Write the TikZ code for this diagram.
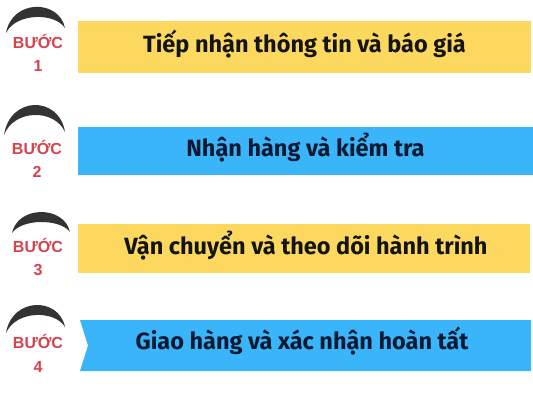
\documentclass[tikz,border=0pt]{standalone}
\usepackage{fontspec}
\setmainfont{Fira Sans}
\newfontfamily\stepfont{Liberation Sans}
\definecolor{stepyellow}{RGB}{252,217,94}
\definecolor{stepblue}{RGB}{59,181,250}
\definecolor{stepred}{RGB}{213,67,79}
\definecolor{capgray}{RGB}{51,51,51}
\definecolor{navy}{RGB}{10,25,50}
\definecolor{ink}{RGB}{20,20,20}
\tikzset{
  capfill/.style={fill=capgray, draw=none},
  steplabel/.style={anchor=base, inner sep=0pt, text=stepred, font=\stepfont\fontsize{16}{19}\selectfont\bfseries},
  maintext/.style={anchor=base, inner sep=0pt, font=\fontsize{23.5}{28}\selectfont\bfseries},
}
\begin{document}
\begin{tikzpicture}[x=1pt,y=-1pt]
\useasboundingbox (0,0) rectangle (533,400);
\fill[white] (0,0) rectangle (533,400);
% bars
\fill[stepyellow] (78,21) rectangle (531,73);
\fill[stepblue] (78,127) rectangle (533,175);
\fill[stepyellow] (78,224) rectangle (530,273);
\fill[stepblue] (80,320) -- (531,320) -- (531,371) -- (80,371) -- (88,345.5) -- cycle;
% caps
\fill[capfill] (6,33) .. controls (12,-1) and (59,-1) .. (65,28) .. controls (55,12.5) and (16,12.5) .. (6,33) -- cycle;
\fill[capfill] (4,135) .. controls (10,95.5) and (59,95.5) .. (65,132) .. controls (55,108.8) and (14,108.8) .. (4,135) -- cycle;
\fill[capfill] (12,233) .. controls (18,205.2) and (64,205.2) .. (70,232) .. controls (60,218.5) and (22,218.5) .. (12,233) -- cycle;
\fill[capfill] (6,333) .. controls (12,296.7) and (59,296.7) .. (65,327) .. controls (55,310) and (16,310) .. (6,333) -- cycle;
% step labels
\node[steplabel] (s1) at (38,48) {BƯỚC};
\node[steplabel] (n1) at (38,71) {1};
\node[steplabel] (s2) at (37,154) {BƯỚC};
\node[steplabel] (n2) at (37,177) {2};
\node[steplabel] (s3) at (38,252) {BƯỚC};
\node[steplabel] (n3) at (38,275) {3};
\node[steplabel] (s4) at (38,348) {BƯỚC};
\node[steplabel] (n4) at (38,372) {4};
% main texts
\node[maintext, text=ink] (t1) at (304.5,52) {Tiếp nhận thông tin và báo giá};
\node[maintext, text=navy] (t2) at (305.5,156) {Nhận hàng và kiểm tra};
\node[maintext, text=ink] (t3) at (306,254) {Vận chuyển và theo dõi hành trình};
\node[maintext, text=navy] (t4) at (302,349) {Giao hàng và xác nhận hoàn tất};
\end{tikzpicture}
\end{document}
